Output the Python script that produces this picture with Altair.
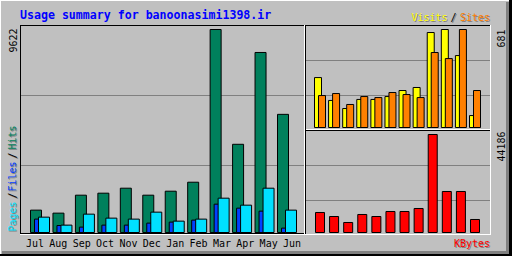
import altair as alt
import pandas as pd

title_text = "Usage summary for banoonasimi1398.ir"
months = ["Jul", "Aug", "Sep", "Oct", "Nov", "Dec", "Jan", "Feb", "Mar", "Apr", "May", "Jun"]
hits = [1060, 918, 1769, 1864, 2100, 1769, 1958, 2384, 9622, 4181, 8533, 5600]
files = [634, 331, 255, 350, 350, 445, 492, 587, 1343, 1154, 1012, 208]
pages = [728, 350, 870, 681, 634, 965, 539, 634, 1627, 1296, 2100, 1060]
visits = [347, 188, 132, 195, 195, 215, 257, 278, 660, 681, 500, 83]
sites = [222, 236, 160, 215, 208, 243, 229, 208, 521, 479, 681, 257]
kbytes = [9018, 7214, 4509, 8116, 7214, 9469, 9469, 10822, 44186, 18487, 18487, 5862]

df = pd.DataFrame({
    "idx": list(range(len(months))),
    "month": months,
    "hits": hits,
    "files": files,
    "pages": pages,
    "visits": visits,
    "sites": sites,
    "kbytes": kbytes,
})
one = pd.DataFrame({"k": [0]})

GREY = "#C0C0C0"
DKGREY = "#808080"
MONO = "DejaVu Sans Mono"


def rect(x1, x2, y1, y2, color):
    return alt.Chart(one).mark_rect(fill=color, strokeWidth=0).encode(
        x=alt.value(x1), x2=alt.value(x2), y=alt.value(y1), y2=alt.value(y2))


def txt(s, x, y, color, size=10, align="left", angle=0, bold=False, shadow=False):
    out = []
    if shadow:
        out.append(txt(s, x + 1, y + 1, DKGREY, size, align, angle, bold)[0])
    props = dict(font=MONO, fontSize=size, color=color, align=align,
                 baseline="alphabetic", fontWeight="bold" if bold else "normal")
    if angle:
        props["angle"] = angle
    out.append(alt.Chart(one).mark_text(**props).encode(
        x=alt.value(x), y=alt.value(y), text=alt.value(s)))
    return out


def bars(field, color, width, xr, yr, ymax):
    return alt.Chart(df).mark_bar(fill=color, stroke="#000000", strokeWidth=1,
                                  width=width).encode(
        x=alt.X("idx:Q", scale=alt.Scale(domain=[0, len(months) - 1], range=xr), axis=None),
        y=alt.Y(f"{field}:Q", scale=alt.Scale(domain=[0, ymax], range=yr, nice=False, zero=True),
                axis=None),
    )


layers = []
# outer 3D frame
layers += [
    rect(0, 512, 0, 1, "#FFFFFF"),
    rect(0, 1, 0, 256, "#FFFFFF"),
    rect(506, 509, 2, 254, DKGREY),
    rect(2, 509, 251, 254, DKGREY),
    rect(509, 512, 0, 256, "#000000"),
    rect(0, 512, 254, 256, "#000000"),
]
# graph box
layers += [
    rect(20, 491, 25, 26, "#000000"),
    rect(20, 21, 25, 235, "#000000"),
    rect(20, 491, 234, 235, "#FFFFFF"),
    rect(490, 491, 25, 235, "#FFFFFF"),
    rect(304, 305, 25, 234, "#FFFFFF"),
    rect(305, 306, 25, 234, "#000000"),
    rect(306, 490, 129, 130, "#FFFFFF"),
    rect(306, 490, 130, 131, "#000000"),
]
# grid lines
for gy in (95, 165):
    layers.append(rect(21, 304, gy, gy + 1, DKGREY))
for gy in (60, 95, 165, 200):
    layers.append(rect(306, 490, gy, gy + 1, DKGREY))

ymax_left = max(hits)
ymax_tr = max(max(visits), max(sites))
ymax_br = max(kbytes)

layers += [
    bars("hits", "#00805C", 11, [31, 288], [232.5, 29.5], ymax_left),
    bars("files", "#0040FF", 11, [35, 292], [232.5, 29.5], ymax_left),
    bars("pages", "#00E0FF", 11, [39, 296], [232.5, 29.5], ymax_left),
    bars("visits", "#FFFF00", 7, [313, 478], [127.5, 29.5], ymax_tr),
    bars("sites", "#FF8000", 7, [317, 482], [127.5, 29.5], ymax_tr),
    bars("kbytes", "#FF0000", 9, [315, 480], [232.5, 134.5], ymax_br),
]
layers.append(rect(21, 304, 233, 234, "#000000"))

# month labels
layers.append(alt.Chart(df).mark_text(font=MONO, fontSize=10, color="#000000",
                                      align="center", baseline="alphabetic").encode(
    x=alt.X("idx:Q", scale=alt.Scale(domain=[0, len(months) - 1], range=[35, 292]), axis=None),
    y=alt.value(246.5),
    text="month:N",
))

# texts
layers += txt(title_text, 20, 18.5, "#0000FF", size=11.6, bold=True)
layers += txt("Visits", 411.5, 20.5, "#FFFF00", shadow=True)
layers += txt("/", 453.5, 20.5, "#000000", align="center", shadow=True)
layers += txt("Sites", 490, 20.5, "#FF8000", align="right", shadow=True)
layers += txt("KBytes", 490, 246.5, "#FF0000", align="right", shadow=True)
layers += txt(str(max(hits)), 16.5, 28.5, "#000000", align="right", angle=270)
layers += txt(str(ymax_tr), 504.5, 29.5, "#000000", align="right", angle=270)
layers += txt(str(max(kbytes)), 504.5, 131.5, "#000000", align="right", angle=270)
layers += txt("Pages", 15.5, 231.5, "#00E0FF", angle=270, shadow=True)
layers += txt("/", 15.5, 195.5, "#000000", align="center", angle=270, shadow=True)
layers += txt("Files", 15.5, 191.5, "#0040FF", angle=270, shadow=True)
layers += txt("/", 15.5, 155.5, "#000000", align="center", angle=270, shadow=True)
layers += txt("Hits", 15.5, 149.5, "#00805C", angle=270, shadow=True)

chart = alt.layer(*layers).resolve_scale(x="independent", y="independent").properties(
    width=512, height=256, autosize="none", padding=0, background=GREY,
).configure_view(strokeWidth=0)

chart.save("out.html", embed_options={"renderer": "svg", "actions": False})
